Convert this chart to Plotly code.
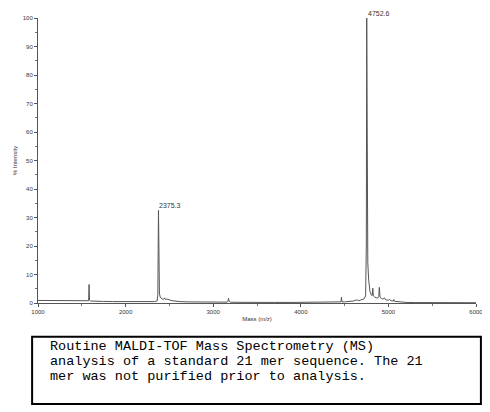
import plotly.graph_objects as go

# m/z values and % intensity of the spectrum trace
mz = [1000, 1100, 1200, 1300, 1400, 1500, 1570, 1578, 1583, 1588, 1600, 1650, 1750, 1850,
      1950, 2050, 2150, 2250, 2330, 2360, 2368, 2375.3, 2380, 2386, 2395, 2410, 2430, 2445,
      2455, 2470, 2490, 2500, 2530, 2570, 2620, 2700, 2800, 2900, 3000, 3100, 3160, 3168,
      3175, 3182, 3195, 3250, 3350, 3500, 3700, 3900, 4100, 4300, 4420, 4458, 4464, 4470,
      4500, 4560, 4600, 4640, 4660, 4680, 4720, 4740, 4748, 4752.6, 4757, 4765, 4775, 4790,
      4805, 4815, 4822, 4828, 4840, 4860, 4880, 4890, 4896, 4905, 4920, 4940, 4955, 4965,
      4980, 5000, 5010, 5030, 5055, 5062, 5070, 5100, 5150, 5200, 5300, 5500, 5700, 5900, 6000]
intensity = [0.9, 0.85, 0.8, 0.75, 0.7, 0.65, 0.6, 0.8, 6.5, 1.0, 0.7, 0.6, 0.55, 0.5,
             0.45, 0.4, 0.4, 0.4, 0.5, 0.7, 3.0, 32.5, 8.0, 3.5, 2.0, 1.5, 1.2, 1.8,
             1.2, 1.4, 1.0, 1.1, 0.8, 0.6, 0.5, 0.4, 0.35, 0.3, 0.3, 0.3, 0.3, 0.6,
             1.6, 0.6, 0.3, 0.25, 0.2, 0.2, 0.2, 0.2, 0.2, 0.25, 0.3, 0.4, 2.0, 0.4,
             0.4, 0.6, 0.7, 1.1, 0.8, 1.0, 1.4, 2.5, 20.0, 100.0, 30.0, 14.0, 8.0, 4.0,
             2.8, 2.6, 5.2, 2.5, 2.2, 1.8, 1.8, 2.2, 5.5, 2.0, 1.6, 1.4, 1.8, 1.2,
             1.1, 0.9, 1.3, 0.8, 0.7, 1.2, 0.6, 0.5, 0.3, 0.2, 0.15, 0.1, 0.1, 0.1, 0.1]

peak_mz = [2375.3, 4752.6]
peak_int = [32.5, 100.0]
peak_labels = ["2375.3", "4752.6"]

x_ticks = [1000, 2000, 3000, 4000, 5000, 6000]
y_ticks = [0, 10, 20, 30, 40, 50, 60, 70, 80, 90, 100]

caption = ["Routine MALDI-TOF Mass Spectrometry (MS)",
           "analysis of a standard 21 mer sequence. The 21",
           "mer was not purified prior to analysis."]

fig = go.Figure()
fig.add_trace(go.Scatter(x=mz, y=intensity, mode="lines",
                         line=dict(color="#555555", width=1), hoverinfo="skip",
                         showlegend=False))

tickfont = dict(family="Liberation Sans", size=6, color="#333333")
fig.update_xaxes(range=[1000, 6000], tickvals=x_ticks, ticktext=[str(v) for v in x_ticks],
                 showline=True, linecolor="#555555", linewidth=1, ticks="outside",
                 ticklen=3, tickcolor="#555555", showgrid=False, zeroline=False,
                 tickfont=tickfont,
                 minor=dict(dtick=500, ticks="outside", ticklen=2, tickcolor="#777777"),
                 title=dict(text="Mass (m/z)", font=tickfont, standoff=2))
fig.update_yaxes(range=[0, 100], tickvals=y_ticks, showline=True, linecolor="#555555",
                 linewidth=1, ticks="outside", ticklen=3, tickcolor="#555555",
                 showgrid=False, zeroline=False, tickfont=tickfont,
                 minor=dict(dtick=5, ticks="outside", ticklen=2, tickcolor="#777777"),
                 title=dict(text="% Intensity", font=tickfont, standoff=4))

for pmx, pmy, lab in zip(peak_mz, peak_int, peak_labels):
    fig.add_annotation(x=pmx, y=pmy, text=lab, showarrow=False, xanchor="left",
                       yanchor="bottom", xshift=-1, yshift=-1,
                       font=dict(family="Liberation Sans", size=7, color="#333333"))

# caption box, positions given in page pixels (plot area spans y=15..303, x=32..478)
def py(pix):
    return (303 - pix) / 288.0

def px(pix):
    return (pix - 32) / 446.0

fig.add_shape(type="rect", xref="paper", yref="paper", x0=px(26), x1=px(483),
              y0=py(405), y1=py(337), line=dict(color="black", width=2),
              fillcolor="white")
for i, line in enumerate(caption):
    fig.add_annotation(xref="paper", yref="paper", x=px(42), y=py(347 + 15 * i),
                       text=line, showarrow=False, xanchor="left", yanchor="middle",
                       font=dict(family="Liberation Mono", size=13.5, color="black"))

# page body has an 8px margin, so the figure is 8px smaller and shifted
fig.update_layout(width=482, height=404, margin=dict(l=24, r=12, t=7, b=109),
                  paper_bgcolor="white", plot_bgcolor="white")
fig.write_html("out.html")
